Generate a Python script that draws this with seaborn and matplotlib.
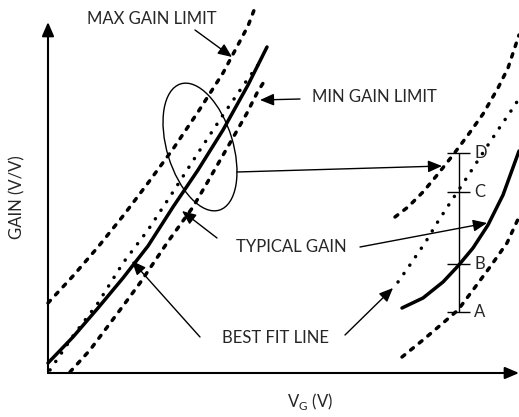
import numpy as np
import pandas as pd
import seaborn as sns
import matplotlib.pyplot as plt
from matplotlib.patches import Ellipse

# left group of curves (VG on x, GAIN on y, arbitrary units)
vg_max_left = [0, 25, 50, 75, 100, 125, 150, 175, 200, 208]
gain_max_left = [70, 97, 126, 157, 190, 224, 261, 300, 347, 368]

vg_fit_left = [0, 25, 50, 75, 100, 125, 150, 175, 200, 219]
gain_fit_left = [10, 36, 65, 95, 127, 166, 203, 243, 288, 326]

vg_typ_left = [2, 25, 50, 75, 100, 125, 150, 175, 197, 210]
gain_typ_left = [3, 37, 70, 110, 143, 181, 220, 258, 290, 308]

vg_min_left = [22, 42, 72, 92, 119, 145, 159, 182, 199, 209, 217]
gain_min_left = [1, 23, 63, 90, 130, 166, 190, 230, 260, 280, 293]

# right group of curves
vg_max_right = [347, 360, 375, 390, 405, 420, 435, 450, 460, 471]
gain_max_right = [156, 166, 181, 199, 218, 238, 259, 285, 305, 338]

vg_typ_right = [350, 357, 364, 370, 377, 389, 402, 414, 427, 440, 452, 465, 472]
gain_typ_right = [91, 101, 111, 120, 130, 150, 170, 188, 208, 228, 246, 265, 276]

vg_fit_right = [354, 375, 395, 410, 425, 440, 455, 471]
gain_fit_right = [65, 75, 91, 107, 125, 148, 178, 222]

vg_min_right = [354, 375, 395, 410, 425, 442, 459, 471]
gain_min_right = [16, 33, 50, 63, 83, 106, 130, 156]

# spread bar A-D
bar_vg = 411
bar_labels = ['A', 'B', 'C', 'D']
bar_gain = [61, 109, 181, 220]

sns.set_theme(style='white')
plt.rcParams['font.family'] = ['Lato', 'DejaVu Sans']

fig = plt.figure(figsize=(5.19, 4.17), dpi=100)
ax = fig.add_axes([0, 0, 1, 1])
ax.set_xlim(-48, 471)
ax.set_ylim(-44, 373)
ax.axis('off')

# round caps: visible dash = on + lw
dash = (0, (1.0, 2.2))
dots = (0, (0.05, 2.9))

curves = [
    (vg_max_left, gain_max_left, dash, 2.5),
    (vg_fit_left, gain_fit_left, '-', 2.5),
    (vg_typ_left, gain_typ_left, dots, 2.5),
    (vg_min_left, gain_min_left, dash, 2.5),
    (vg_max_right, gain_max_right, dash, 2.5),
    (vg_typ_right, gain_typ_right, dots, 2.5),
    (vg_fit_right, gain_fit_right, '-', 2.5),
    (vg_min_right, gain_min_right, dash, 2.5),
]
for xs, ys, ls, lw in curves:
    sns.lineplot(x=xs, y=ys, ax=ax, color='black', linestyle=ls, lw=lw,
                 estimator=None, sort=False, dash_capstyle='round',
                 solid_capstyle='round')

# axes with arrows
head = '-|>,head_length=0.7,head_width=0.3'
ax.annotate('', xy=(0, 351), xytext=(0, 0),
            arrowprops=dict(arrowstyle=head, color='black', lw=1.5, shrinkA=0, shrinkB=0))
ax.annotate('', xy=(471, 0), xytext=(0, 0),
            arrowprops=dict(arrowstyle=head, color='black', lw=1.5, shrinkA=0, shrinkB=0))

# spread bar
ax.vlines(bar_vg, min(bar_gain), max(bar_gain), color='black', lw=1.0)
for lab, g in zip(bar_labels, bar_gain):
    ax.hlines(g, bar_vg - 12, bar_vg + 11, color='black', lw=1.0)
    ax.text(bar_vg + 15, g, lab, fontsize=12, va='center', ha='left')

# ellipse around the left group
ax.add_patch(Ellipse((152, 226), 132, 66, angle=107, fill=False, color='black', lw=1.0))

# annotation arrows: (text, text pos, [(start, tip), ...])
notes = [
    ('MAX GAIN LIMIT', (39, 354), [((147, 343), (184, 316))]),
    ('MIN GAIN LIMIT', (264, 276), [((252, 274), (212, 273))]),
    ('TYPICAL GAIN', (188, 126), [((312, 126), (439, 150)), ((169, 135), (134, 162))]),
    ('BEST FIT LINE', (174, 35), [((152, 36), (84, 112)), ((297, 38), (345, 85))]),
]
for txt, pos, arrows in notes:
    ax.text(pos[0], pos[1], txt, fontsize=12, va='center', ha='left')
    for start, tip in arrows:
        ax.annotate('', xy=tip, xytext=start,
                    arrowprops=dict(arrowstyle=head, color='black', lw=1.0, shrinkA=0, shrinkB=0))
ax.annotate('', xy=(394, 207), xytext=(189, 201),
            arrowprops=dict(arrowstyle=head, color='black', lw=1.0, shrinkA=0, shrinkB=0))

# axis labels
ax.text(-31, 176, 'GAIN (V/V)', fontsize=12, rotation=90, ha='center', va='center')
ax.text(262, -28, r'V$_\mathregular{G}$ (V)', fontsize=12, ha='center', va='center')

plt.savefig('out.png', dpi=100)
